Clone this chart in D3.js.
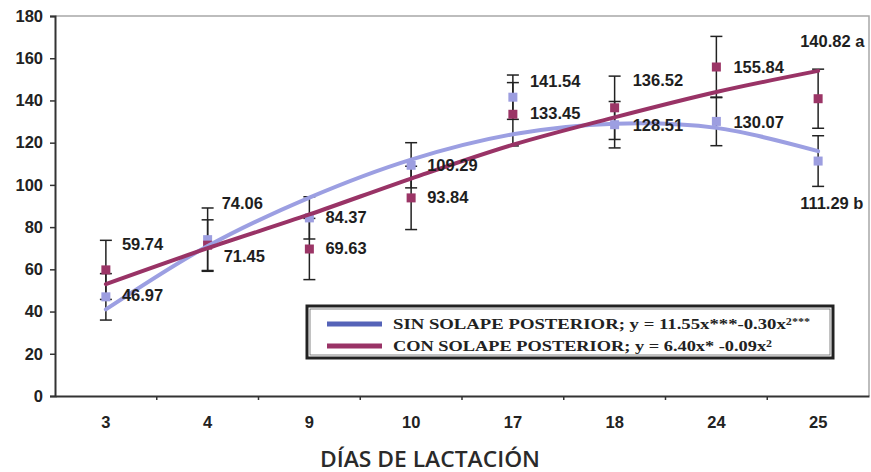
<!DOCTYPE html>
<html>
<head>
<meta charset="utf-8">
<script src="https://cdn.jsdelivr.net/npm/d3@7"></script>
<style>
  body { margin: 0; background: #fff; }
  svg text { font-family: "Liberation Sans", Arial, sans-serif; }
</style>
</head>
<body>
<div id="chart"></div>
<script>
// days of lactation (categories)
var days = ['3', '4', '9', '10', '17', '18', '24', '25'];

// SIN SOLAPE POSTERIOR
var sinValues = [46.97, 74.06, 84.37, 109.29, 141.54, 128.51, 130.07, 111.29];
var sinErr = [11, 15, 10, 10.7, 10.5, 11, 11.5, 12];
var sinTrend = [41, 71, 94, 112, 124, 129, 127, 116];
var sinLabels = ['46.97', '74.06', '84.37', '109.29', '141.54', '128.51', '130.07', '111.29 b'];

// CON SOLAPE POSTERIOR
var conValues = [59.74, 71.45, 69.63, 93.84, 133.45, 136.52, 155.84, 140.82];
var conErr = [14, 12, 14.5, 15, 15, 15, 14.5, 14];
var conTrend = [53, 70, 86, 103, 119, 132, 144, 154];
var conLabels = ['59.74', '71.45', '69.63', '93.84', '133.45', '136.52', '155.84', '140.82 a'];

var yTicks = [0, 20, 40, 60, 80, 100, 120, 140, 160, 180];

// label nudges (px), as placed by hand on the original figure
var sinLabelShift = [[16, -2], [14, -36], [16, -1], [16, 0], [17, -16], [18, 1], [17, 1], [-18, 42]];
var conLabelShift = [[16, -26], [16, 11], [16, -1], [16, -1], [17, -1], [18, -28], [17, 0], [-18, -57]];

var width = 871, height = 472;
var margin = {top: 16, right: 2, bottom: 76, left: 55};

var svg = d3.select('#chart').append('svg')
  .attr('width', width)
  .attr('height', height);

var x = d3.scaleBand()
  .domain(days)
  .range([margin.left, width - margin.right]);

var y = d3.scaleLinear()
  .domain([0, 180])
  .range([height - margin.bottom, margin.top]);

var cx = function(i) { return x(days[i]) + x.bandwidth() / 2; };

// plot frame (top / right in light grey)
svg.append('path')
  .attr('d', 'M' + margin.left + ',' + y(180) + 'H' + (width - margin.right) + 'V' + y(0))
  .attr('fill', 'none')
  .attr('stroke', '#a8a8a8')
  .attr('stroke-width', 1.5);

// y axis
var yAxis = svg.append('g')
  .attr('transform', 'translate(' + margin.left + ',0)')
  .call(d3.axisLeft(y).tickValues(yTicks).tickSize(5).tickPadding(7));
yAxis.select('.domain').attr('stroke', '#333').attr('stroke-width', 2);
yAxis.selectAll('.tick line').attr('stroke', '#333').attr('stroke-width', 1.5);
yAxis.selectAll('text')
  .attr('fill', '#222')
  .style('font-size', '16.5px')
  .style('font-weight', 'bold');

// x axis: ticks sit between categories
var xAxis = svg.append('g')
  .attr('transform', 'translate(0,' + y(0) + ')')
  .call(d3.axisBottom(x).tickSize(0).tickPadding(20));
xAxis.select('.domain').attr('stroke', '#333').attr('stroke-width', 2);
xAxis.selectAll('text')
  .attr('fill', '#222')
  .style('font-size', '16.5px')
  .style('font-weight', 'bold');
xAxis.selectAll('.sep')
  .data(days.slice(1))
  .enter().append('line')
  .attr('class', 'sep')
  .attr('x1', function(d) { return x(d); })
  .attr('x2', function(d) { return x(d); })
  .attr('y1', 0)
  .attr('y2', 4)
  .attr('stroke', '#333')
  .attr('stroke-width', 1.5);

svg.append('text')
  .attr('x', 430)
  .attr('y', 467)
  .attr('text-anchor', 'middle')
  .attr('textLength', 220)
  .attr('lengthAdjust', 'spacingAndGlyphs')
  .style('font-family', '"Open Sans", sans-serif')
  .style('font-size', '21px')
  .style('font-weight', '600')
  .attr('fill', '#2a2a2a')
  .text('DÍAS DE LACTACIÓN');

var series = [
  {values: sinValues, err: sinErr, trend: sinTrend, labels: sinLabels, shift: sinLabelShift,
   marker: '#9d9ee0', line: '#9c9fe2', legend: '#5563b8'},
  {values: conValues, err: conErr, trend: conTrend, labels: conLabels, shift: conLabelShift,
   marker: '#9b3566', line: '#993366', legend: '#993366'}
];

// error bars
series.forEach(function(s) {
  var g = svg.append('g').attr('stroke', '#222').attr('stroke-width', 1.5);
  s.values.forEach(function(v, i) {
    var x0 = cx(i);
    g.append('line').attr('x1', x0).attr('x2', x0)
      .attr('y1', y(v + s.err[i])).attr('y2', y(v - s.err[i]));
    [v + s.err[i], v - s.err[i]].forEach(function(e) {
      g.append('line').attr('x1', x0 - 6).attr('x2', x0 + 6)
        .attr('y1', y(e)).attr('y2', y(e));
    });
  });
});

// markers
series.forEach(function(s) {
  svg.append('g').selectAll('rect')
    .data(s.values)
    .enter().append('rect')
    .attr('x', function(d, i) { return cx(i) - 4.5; })
    .attr('y', function(d) { return y(d) - 4.5; })
    .attr('width', 9)
    .attr('height', 9)
    .attr('fill', s.marker);
});

// polynomial trend lines
var line = d3.line()
  .x(function(d, i) { return cx(i); })
  .y(function(d) { return y(d); })
  .curve(d3.curveCatmullRom);

series.forEach(function(s) {
  svg.append('path')
    .datum(s.trend)
    .attr('d', line)
    .attr('fill', 'none')
    .attr('stroke', s.line)
    .attr('stroke-width', 4)
    .attr('stroke-linecap', 'round');
});

// value labels
series.forEach(function(s) {
  svg.append('g').selectAll('text')
    .data(s.values)
    .enter().append('text')
    .attr('x', function(d, i) { return cx(i) + s.shift[i][0]; })
    .attr('y', function(d, i) { return y(d) + s.shift[i][1]; })
    .attr('dy', '0.35em')
    .attr('fill', '#1e1e1e')
    .style('font-size', '16.5px')
    .style('font-weight', 'bold')
    .text(function(d, i) { return s.labels[i]; });
});

// legend
var legend = svg.append('g');
legend.append('rect')
  .attr('x', 307).attr('y', 306)
  .attr('width', 526).attr('height', 52)
  .attr('fill', '#fff')
  .attr('stroke', '#222')
  .attr('stroke-width', 3);
legend.append('rect')
  .attr('x', 310).attr('y', 309)
  .attr('width', 520).attr('height', 46)
  .attr('fill', 'none')
  .attr('stroke', '#666')
  .attr('stroke-width', 0.8);

var legendRows = [
  {color: series[0].legend, y: 324, len: 417, text: 'SIN SOLAPE POSTERIOR; y = 11.55x***-0.30x', sup: '2***'},
  {color: series[1].legend, y: 346, len: 379, text: 'CON SOLAPE POSTERIOR; y = 6.40x* -0.09x', sup: '2'}
];
legendRows.forEach(function(r) {
  legend.append('line')
    .attr('x1', 327).attr('x2', 382)
    .attr('y1', r.y).attr('y2', r.y)
    .attr('stroke', r.color)
    .attr('stroke-width', 5);
  var t = legend.append('text')
    .attr('x', 393)
    .attr('y', r.y)
    .attr('dy', '0.35em')
    .attr('textLength', r.len)
    .attr('lengthAdjust', 'spacingAndGlyphs')
    .attr('fill', '#222')
    .style('font-family', '"Liberation Serif", "Times New Roman", serif')
    .style('font-size', '15.5px')
    .style('font-weight', 'bold')
    .text(r.text);
  t.append('tspan')
    .attr('dy', '-0.45em')
    .style('font-size', '10px')
    .text(r.sup);
});
</script>
</body>
</html>
